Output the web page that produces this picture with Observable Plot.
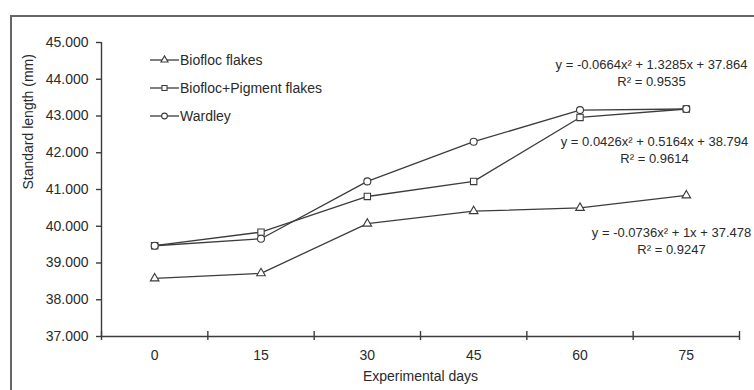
<!DOCTYPE html>
<html>
<head>
<meta charset="utf-8">
<script src="https://cdn.jsdelivr.net/npm/d3@7"></script>
<script src="https://cdn.jsdelivr.net/npm/@observablehq/plot@0.6"></script>
<style>
  html, body { margin: 0; padding: 0; background: #fff; overflow: hidden; }
  #wrap { position: relative; width: 754px; height: 390px; font-family: "Liberation Sans", Arial, sans-serif; }
  #wrap > svg { position: absolute; left: 0; top: 0; }
  #frame { position: absolute; left: 10px; top: 15px; width: 760px; height: 400px; border-top: 2px solid #666; border-left: 2px solid #666; box-sizing: border-box; }
</style>
</head>
<body>
<div id="wrap"><div id="frame"></div></div>
<script>
const days = [0, 15, 30, 45, 60, 75];
const dayBounds = [-7.5, 7.5, 22.5, 37.5, 52.5, 67.5, 82.5];
const yTicks = [37, 38, 39, 40, 41, 42, 43, 44, 45];
const seriesNames = ["Biofloc flakes", "Biofloc+Pigment flakes", "Wardley"];
const bioflocFlakes = [38.58, 38.72, 40.07, 40.41, 40.50, 40.84];
const bioflocPigment = [39.47, 39.84, 40.81, 41.22, 42.96, 43.19];
const wardley = [39.47, 39.66, 41.22, 42.30, 43.16, 43.19];
const equations = [
  "y = -0.0664x² + 1.3285x + 37.864\nR² = 0.9535",
  "y = 0.0426x² + 0.5164x + 38.794\nR² = 0.9614",
  "y = -0.0736x² + 1x + 37.478\nR² = 0.9247"
];

const symbols = ["triangle", "square", "circle"];
const radii = [3.2, 3.6, 3.5];
const allValues = [bioflocFlakes, bioflocPigment, wardley];
const rows = [];
allValues.forEach((vals, s) => vals.forEach((v, i) => rows.push({series: seriesNames[s], day: days[i], value: v})));

const ink = "#3c3c3c";
const font = 14;

const marks = [
  Plot.ruleX([dayBounds[0]], {stroke: ink, strokeWidth: 1.4}),
  Plot.ruleY([yTicks[0]], {stroke: ink, strokeWidth: 1.4}),
  Plot.axisY({ticks: yTicks, tickSize: 5, tickPadding: 8, tickFormat: d3.format(".3f"), label: null, fontSize: font, stroke: ink, strokeWidth: 1.4, color: "#2a2a2a"}),
  Plot.axisX({ticks: dayBounds, tickSize: 9, dy: -5, tickFormat: () => "", label: null, stroke: ink, strokeWidth: 1.4}),
  Plot.axisX({ticks: days, tickSize: 0, tickPadding: 14, label: null, fontSize: font, color: "#2a2a2a"}),
  Plot.text(["Experimental days"], {frameAnchor: "bottom", dy: 44, fontSize: font, fill: "#2a2a2a"}),
  Plot.text(["Standard length (mm)"], {frameAnchor: "left", dx: -73, rotate: -90, fontSize: font, fill: "#2a2a2a"}),
  Plot.line(rows, {x: "day", y: "value", z: "series", stroke: ink, strokeWidth: 1.3})
];
seriesNames.forEach((name, s) => {
  marks.push(Plot.dot(rows.filter(d => d.series === name), {x: "day", y: "value", symbol: () => symbols[s], r: radii[s], fill: "white", stroke: ink, strokeWidth: 1.1}));
});
const eqPos = [[550, 30], [553, 107], [570, 198]];
equations.forEach((eq, i) => {
  marks.push(Plot.text([eq], {frameAnchor: "top-left", dx: eqPos[i][0], dy: eqPos[i][1], textAnchor: "middle", lineAnchor: "middle", lineHeight: 1.3, fontSize: 13, fill: "#2a2a2a"}));
});

const chart = Plot.plot({
  width: 754,
  height: 390,
  marginLeft: 101,
  marginTop: 42,
  marginBottom: 54,
  marginRight: 15,
  style: {fontFamily: "'Liberation Sans', Arial, sans-serif", background: "transparent", overflow: "visible"},
  x: {type: "linear", domain: [dayBounds[0], dayBounds[dayBounds.length - 1]]},
  y: {domain: [yTicks[0], yTicks[yTicks.length - 1]]},
  symbol: {type: "identity"},
  marks
});
document.getElementById("wrap").appendChild(chart);

// Legend overlay built from the series arrays
const leg = d3.select("#wrap").append("svg")
  .attr("width", 754).attr("height", 390)
  .style("position", "absolute").style("left", 0).style("top", 0);
const legRowY = [60, 88, 116];
seriesNames.forEach((name, s) => {
  const g = leg.append("g").attr("transform", `translate(150,${legRowY[s]})`);
  g.append("line").attr("x1", 0).attr("x2", 29).attr("stroke", ink).attr("stroke-width", 1.3);
  const sym = {triangle: d3.symbolTriangle, square: d3.symbolSquare, circle: d3.symbolCircle}[symbols[s]];
  g.append("path").attr("transform", "translate(14.5,0)")
    .attr("d", d3.symbol(sym, s === 0 ? 22 : 26)())
    .attr("fill", "white").attr("stroke", ink).attr("stroke-width", 1.1);
  g.append("text").attr("x", 30).attr("dy", "0.35em")
    .attr("font-size", font).attr("fill", "#2a2a2a")
    .attr("font-family", "'Liberation Sans', Arial, sans-serif")
    .text(name);
});
</script>
</body>
</html>
